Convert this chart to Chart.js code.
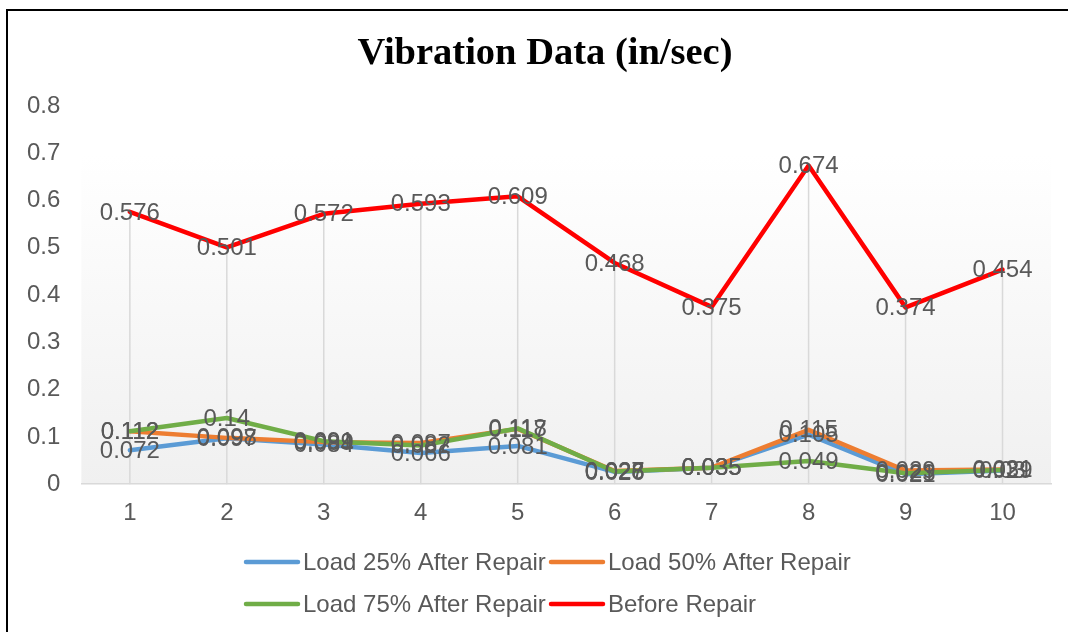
<!DOCTYPE html>
<html>
<head>
<meta charset="utf-8">
<script src="https://cdn.jsdelivr.net/npm/chart.js@4.4.1/dist/chart.umd.min.js"></script>
<style>
  body { margin: 0; background: #fff; }
  #wrap { width: 1068px; height: 632px; }
</style>
</head>
<body>
<div id="wrap"><canvas id="vib" width="1068" height="632"></canvas></div>
<script>
// vibration readings per machine (in/sec)
var categories = ['1', '2', '3', '4', '5', '6', '7', '8', '9', '10'];
var load25 = [0.072, 0.097, 0.084, 0.066, 0.081, 0.026, 0.035, 0.105, 0.021, 0.029];
var load50 = [0.112, 0.098, 0.089, 0.087, 0.117, 0.028, 0.035, 0.115, 0.029, 0.031];
var load75 = [0.112, 0.14, 0.091, 0.082, 0.118, 0.027, 0.035, 0.049, 0.023, 0.030];
var beforeRepair = [0.576, 0.501, 0.572, 0.593, 0.609, 0.468, 0.375, 0.674, 0.374, 0.454];
var seriesNames = ['Load 25% After Repair', 'Load 50% After Repair', 'Load 75% After Repair', 'Before Repair'];
var yTicks = [0, 0.1, 0.2, 0.3, 0.4, 0.5, 0.6, 0.7, 0.8];
var chartTitle = 'Vibration Data (in/sec)';

var colors = ['#5B9BD5', '#ED7D31', '#70AD47', '#FF0000'];
var txtFont = '24px "Liberation Sans", Arial, sans-serif';

function line(name, data, i) {
    return {
        label: name,
        data: data,
        borderColor: colors[i],
        backgroundColor: colors[i],
        borderWidth: 4.5,
        pointRadius: 0,
        tension: 0,
        borderCapStyle: 'round',
        borderJoinStyle: 'round',
        order: 3 - i // later series on top, like excel
    };
}

var excelLook = {
    id: 'excelLook',
    beforeDraw: function (chart) {
        var ctx = chart.ctx, a = chart.chartArea, y = chart.scales.y;
        ctx.save();
        // frame
        ctx.strokeStyle = '#000';
        ctx.lineWidth = 2;
        ctx.beginPath();
        ctx.moveTo(7, 632); ctx.lineTo(7, 10); ctx.lineTo(1068, 10);
        ctx.stroke();
        // title (excel centres it a bit right of the canvas middle)
        ctx.fillStyle = '#000';
        ctx.font = 'bold 38.5px "Liberation Serif", "Times New Roman", serif';
        ctx.textAlign = 'center';
        ctx.textBaseline = 'middle';
        ctx.fillText(chartTitle, 545, 54);
        // plot area shading
        var top = y.getPixelForValue(0.7) + 2;
        var g = ctx.createLinearGradient(0, top, 0, a.bottom);
        g.addColorStop(0, '#ffffff');
        g.addColorStop(1, '#f0f0f0');
        ctx.fillStyle = g;
        ctx.fillRect(a.left, top, a.right - a.left, a.bottom - top);
        ctx.restore();
    },
    beforeDatasetsDraw: function (chart) {
        // drop lines from highest point to axis
        var ctx = chart.ctx, x = chart.scales.x, y = chart.scales.y;
        ctx.save();
        ctx.strokeStyle = '#d9d9d9';
        ctx.lineWidth = 1.5;
        categories.forEach(function (c, i) {
            var mx = Math.max.apply(null, chart.data.datasets.map(function (d) { return d.data[i]; }));
            var px = x.getPixelForValue(i);
            ctx.beginPath();
            ctx.moveTo(px, y.getPixelForValue(mx));
            ctx.lineTo(px, y.getPixelForValue(0));
            ctx.stroke();
        });
        ctx.restore();
    },
    afterDatasetsDraw: function (chart) {
        var ctx = chart.ctx;
        ctx.save();
        ctx.font = txtFont;
        ctx.fillStyle = '#595959';
        ctx.textAlign = 'center';
        ctx.textBaseline = 'middle';
        chart.data.datasets.forEach(function (ds, di) {
            var meta = chart.getDatasetMeta(di);
            meta.data.forEach(function (pt, i) {
                ctx.fillText(String(ds.data[i]), pt.x, pt.y + 1);
            });
        });
        // legend, two columns like excel
        var colW = 305, startX = 244, rowY = [562, 604];
        chart.data.datasets.forEach(function (ds, di) {
            var cx = startX + (di % 2) * colW;
            var cy = rowY[Math.floor(di / 2)];
            ctx.strokeStyle = ds.borderColor;
            ctx.lineWidth = 4.5;
            ctx.lineCap = 'round';
            ctx.beginPath();
            ctx.moveTo(cx + 2, cy);
            ctx.lineTo(cx + 54, cy);
            ctx.stroke();
            ctx.textAlign = 'left';
            ctx.fillText(ds.label, cx + 59, cy + 1);
        });
        ctx.restore();
    }
};

var config = {
    type: 'line',
    data: {
        labels: categories,
        datasets: [
            line(seriesNames[0], load25, 0),
            line(seriesNames[1], load50, 1),
            line(seriesNames[2], load75, 2),
            line(seriesNames[3], beforeRepair, 3)
        ]
    },
    options: {
        responsive: false,
        animation: false,
        layout: { padding: { left: 6, right: 17, top: 106, bottom: 89 } },
        plugins: {
            legend: { display: false },
            tooltip: { enabled: false },
            title: { display: false }
        },
        scales: {
            x: {
                offset: true,
                grid: { display: false, drawTicks: false },
                border: { display: true, color: '#d9d9d9', width: 1.5 },
                ticks: { color: '#595959', font: { family: '"Liberation Sans", Arial, sans-serif', size: 24 }, padding: 15, maxRotation: 0 }
            },
            y: {
                min: 0,
                max: 0.8,
                afterBuildTicks: function (s) { s.ticks = yTicks.map(function (v) { return { value: v }; }); },
                grid: { display: false, drawTicks: false },
                border: { display: false },
                ticks: { color: '#595959', font: { family: '"Liberation Sans", Arial, sans-serif', size: 24 }, padding: 21 }
            }
        }
    },
    plugins: [excelLook]
};

var ctx = document.getElementById('vib').getContext('2d');
new Chart(ctx, config);
</script>
</body>
</html>
